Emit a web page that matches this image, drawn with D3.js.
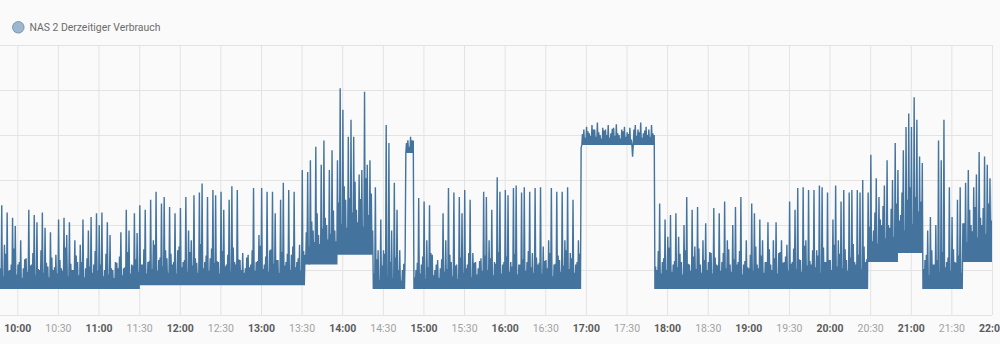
<!DOCTYPE html>
<html><head><meta charset="utf-8">
<script src="https://cdn.jsdelivr.net/npm/d3@7"></script>
<style>
html,body{margin:0;padding:0;background:#fafafa;overflow:hidden;}
svg{display:block;font-family:Roboto,"Noto Sans",sans-serif;}
</style>
</head><body>
<svg id="chart" width="1000" height="344"></svg>
<script>
// ---------- data ----------
const seriesName = "NAS 2 Derzeitiger Verbrauch";
const startTime = "09:47";      // first sample
const stepMinutes = 2;          // one idle / background / peak cycle every 2 minutes
// idle floor level (W) valid from each time on
const levelTimes = ["09:47","11:31","13:33","13:57","14:23","14:47","14:53","16:57","17:51","20:29","20:51","21:09","21:39"];
const floorWatts = [12.9, 13.3, 15.6, 16.7, 12.9, 28.0, 12.9, 28.9, 12.9, 15.9, 16.9, 12.9, 15.9];
// background readings (W), one every 2 minutes
const midWatts = [
  15.2,14.3,16.8,14.9,15.6,17.4,14.5,15.9,14.1,16.2,
  14.8,15.5,16.9,14.4,15.1,17.2,14.7,15.8,14.2,16.4,
  15.3,14.6,16.1,14.9,17.5,14.3,15.7,15.0,16.6,14.4,
  15.9,14.2,16.3,15.4,14.7,17.1,14.9,15.6,14.3,16.8,
  14.5,15.2,14.1,15.8,16.5,14.4,15.3,17.0,14.6,15.5,
  16.2,14.8,15.6,17.3,14.6,16.0,15.1,17.8,14.9,16.4,
  15.4,17.2,14.7,16.8,15.9,14.6,17.6,15.3,16.1,14.8,
  17.0,15.5,16.3,14.7,17.9,15.2,16.6,14.9,17.4,15.8,
  16.0,14.6,17.1,15.4,16.7,14.8,17.5,15.6,16.2,15.0,
  14.7,16.4,15.3,17.2,14.9,16.0,17.7,15.1,16.5,14.8,
  17.3,15.7,16.1,14.7,17.0,15.5,16.8,15.0,17.6,15.3,
  16.3,14.9,17.1,19.2,17.6,20.4,18.1,21.3,17.9,19.6,
  20.8,18.4,19.0,21.6,18.2,22.5,20.1,24.3,19.7,23.0,
  21.4,24.8,20.3,22.9,19.8,25.2,21.1,23.5,14.6,16.2,
  13.9,15.5,16.8,14.3,15.9,14.1,16.4,15.0,13.8,15.7,
  29.1,28.7,29.4,14.2,15.8,14.6,16.5,14.0,15.3,16.9,
  14.4,15.6,14.1,16.2,14.8,15.1,16.7,14.3,15.5,14.0,
  16.4,14.7,15.2,16.9,14.2,15.8,14.5,16.0,14.9,16.6,
  15.0,16.3,14.4,15.7,17.0,14.6,15.9,16.5,14.8,15.4,
  16.8,14.5,15.6,16.2,14.9,17.1,15.3,14.7,16.4,15.8,
  14.6,16.0,15.2,16.9,14.3,15.7,16.6,14.8,15.5,17.2,
  15.1,16.3,14.7,15.9,16.8,30.1,29.7,30.4,29.9,30.6,
  29.8,30.3,29.6,30.5,30.0,29.7,30.7,29.9,30.2,29.6,
  30.4,29.8,30.1,29.5,30.6,29.9,30.3,29.7,30.5,30.0,
  29.8,30.2,15.4,17.1,14.6,16.3,15.0,17.5,14.8,16.0,
  15.3,16.8,14.5,17.2,15.7,14.9,16.5,15.1,17.4,14.7,
  16.1,15.0,17.0,14.6,16.4,15.5,14.9,16.9,15.2,17.3,
  14.8,16.2,15.6,17.1,14.5,16.0,15.3,16.7,14.9,17.6,
  15.2,16.6,14.7,15.9,17.3,15.0,16.3,14.6,17.0,15.8,
  16.5,14.9,15.7,17.4,15.1,16.2,14.8,17.7,15.5,16.0,
  17.2,15.3,16.6,14.7,17.5,15.9,16.1,15.0,17.8,15.4,
  16.8,15.2,17.3,14.9,16.4,17.9,15.6,16.7,15.1,17.6,
  16.2,19.8,18.2,21.4,17.9,20.6,22.1,18.5,20.0,21.8,
  18.7,22.4,20.5,23.6,19.4,22.8,24.2,20.1,23.1,21.5,
  22.6,15.1,16.7,14.4,17.2,15.6,16.1,14.8,17.0,15.3,
  16.4,14.9,17.3,15.8,16.6,14.7,20.2,18.1,21.7,19.3,
  22.0,18.6,20.8,21.9,19.0,22.4,20.5
];
// peak readings (W), one every 2 minutes
const peakWatts = [
  22.2,17.8,21.4,15.0,20.8,19.9,15.6,18.3,15.2,16.3,
  21.7,15.6,21.1,20.3,15.0,21.4,19.7,15.4,19.2,15.0,
  16.7,20.6,15.2,20.8,18.9,20.3,15.0,18.3,15.9,17.8,
  20.6,15.2,19.4,20.9,15.6,21.3,20.0,21.4,15.0,20.3,
  18.9,15.0,15.9,15.2,19.2,15.2,21.7,19.4,15.6,21.3,
  19.1,22.2,15.6,21.7,15.9,22.8,18.3,23.7,16.1,22.4,
  23.1,16.3,22.0,15.6,21.3,17.2,21.9,15.9,23.1,19.4,
  18.3,23.3,15.8,23.6,24.6,15.9,23.1,16.3,23.9,23.3,
  15.9,23.7,21.7,15.6,22.8,24.3,15.9,23.9,16.1,16.9,
  15.2,16.7,15.6,24.1,15.9,18.9,24.1,15.6,23.7,17.2,
  23.7,21.3,16.1,22.8,24.7,15.9,23.9,16.7,23.7,15.9,
  17.8,26.1,16.7,25.9,27.2,19.4,28.7,18.9,26.7,29.4,
  20.0,26.1,28.3,19.4,27.2,35.2,32.8,22.8,29.8,31.7,
  29.8,21.7,25.6,26.1,34.8,26.7,27.2,19.4,24.2,17.2,
  20.6,17.2,31.1,29.1,19.4,24.7,21.7,17.2,15.0,16.7,
  29.4,29.8,29.4,15.0,23.0,15.6,22.6,18.3,22.2,16.7,
  15.0,16.1,15.2,21.3,18.3,24.1,15.9,23.6,15.6,23.1,
  21.3,23.9,15.6,22.8,16.9,15.9,15.2,16.3,23.7,23.1,
  18.3,21.7,15.9,25.3,23.7,15.6,23.9,23.3,15.9,24.1,
  24.4,15.6,23.6,24.2,15.9,23.7,16.9,24.1,15.6,24.2,
  17.6,16.1,18.3,24.1,15.6,23.7,16.1,23.7,18.3,24.2,
  16.9,22.8,15.6,18.3,28.6,30.6,30.9,30.2,31.1,30.6,
  31.4,30.0,30.8,30.6,31.1,30.2,30.8,31.2,30.0,30.6,
  30.9,30.3,30.8,27.6,31.1,30.6,31.4,30.2,30.9,30.6,
  31.1,30.0,15.0,22.4,15.9,20.6,18.7,21.1,15.6,21.3,
  18.7,15.9,20.0,23.1,15.6,21.7,17.6,22.0,15.6,18.3,
  20.2,15.9,16.9,21.9,15.6,21.3,15.9,22.6,18.3,15.6,
  20.0,22.0,15.9,23.1,15.6,18.3,15.2,22.4,21.3,15.6,
  20.6,18.3,15.9,20.3,15.6,18.3,20.3,16.9,18.3,15.9,
  17.8,22.6,15.9,21.7,24.1,16.1,24.2,18.3,23.9,15.6,
  23.9,17.2,24.4,24.2,15.9,23.6,16.1,20.6,24.4,18.3,
  22.6,23.9,16.1,23.6,23.9,15.9,23.9,23.6,25.0,15.9,
  23.6,27.8,19.4,25.2,23.1,20.0,24.4,27.2,19.7,25.0,
  29.1,26.1,21.1,28.3,30.9,32.4,30.9,34.2,31.7,27.6,
  26.9,16.1,19.4,20.9,15.6,20.0,29.4,27.2,31.7,15.9,
  24.2,20.9,15.9,22.8,24.2,20.2,24.7,26.1,20.0,24.2,
  25.6,28.1,20.0,27.6,26.7,25.2,24.7
];
const tickTimes = ["10:00","10:30","11:00","11:30","12:00","12:30","13:00","13:30","14:00","14:30","15:00","15:30",
  "16:00","16:30","17:00","17:30","18:00","18:30","19:00","19:30","20:00","20:30","21:00","21:30","22:00"];
const yTicks = [10,15,20,25,30,35,40];
const domainStart = "09:47:13", domainEnd = "22:00:00";

// ---------- chart ----------
const W = 1000, H = 344;
const plot = {left:0, right:992, top:45, bottom:315};
const color = "#44739e";
const parseHM = d3.timeParse("%H:%M");
const parseHMS = d3.timeParse("%H:%M:%S");

const x = d3.scaleTime().domain([parseHMS(domainStart), parseHMS(domainEnd)]).range([plot.left, plot.right]);
const y = d3.scaleLinear().domain([yTicks[0], yTicks[yTicks.length-1]]).range([plot.bottom, plot.top]);

const svg = d3.select("#chart");
svg.append("rect").attr("width",W).attr("height",H).attr("fill","#fafafa");

// grid
const gridY = svg.append("g").attr("transform",`translate(${plot.left},0)`)
  .call(d3.axisLeft(y).tickValues(yTicks).tickSize(-(plot.right-plot.left)).tickFormat(""));
gridY.select(".domain").remove();
gridY.selectAll("line").attr("stroke","#e3e3e3").attr("stroke-width",1);

const tickDates = tickTimes.map(parseHM);
const gridX = svg.append("g").attr("transform",`translate(0,${plot.bottom})`)
  .call(d3.axisBottom(x).tickValues(tickDates).tickSize(-(plot.bottom-plot.top)).tickFormat(""));
gridX.select(".domain").remove();
gridX.selectAll("line").attr("stroke","#e3e3e3").attr("stroke-width",1);

// labels
const axisX = svg.append("g").attr("transform",`translate(0,${plot.bottom})`)
  .call(d3.axisBottom(x).tickValues(tickDates).tickSize(0).tickPadding(10).tickFormat(d3.timeFormat("%H:%M")));
axisX.select(".domain").remove();
axisX.selectAll("text")
  .attr("font-family","Roboto, sans-serif")
  .attr("font-size","10.5px")
  .attr("font-weight", d => d.getMinutes()===0 ? "bold" : "normal")
  .attr("fill", d => d.getMinutes()===0 ? "#5c5c5c" : "#a2a2a2");

// data points
const t0 = parseHM(startTime);
const levelDates = levelTimes.map(parseHM);
function floorAt(t){
  let v = floorWatts[0];
  levelDates.forEach((d,i)=>{ if (t >= d) v = floorWatts[i]; });
  return v;
}
const points = [];
peakWatts.forEach((p,i)=>{
  const base = i*stepMinutes*60;
  const ta = d3.timeSecond.offset(t0, base);
  const tb = d3.timeSecond.offset(t0, base+30);
  const tc = d3.timeSecond.offset(t0, base+60);
  const td = d3.timeSecond.offset(t0, base+90);
  points.push([ta, floorAt(ta)]);
  points.push([tb, midWatts[i]]);
  points.push([tc, floorAt(tc)]);
  points.push([td, p]);
});

svg.append("clipPath").attr("id","clip").append("rect")
  .attr("x",plot.left).attr("y",plot.top-5).attr("width",plot.right-plot.left).attr("height",plot.bottom-plot.top+5);

const line = d3.line().x(d=>x(d[0])).y(d=>y(d[1]));
svg.append("path").datum(points)
  .attr("clip-path","url(#clip)")
  .attr("d",line)
  .attr("fill","none")
  .attr("stroke",color)
  .attr("stroke-width",1.4)
  .attr("stroke-linejoin","bevel");

// legend
const lg = svg.append("g");
lg.append("circle").attr("cx",18.3).attr("cy",27.3).attr("r",5.8)
  .attr("fill",color).attr("fill-opacity",0.5).attr("stroke",color).attr("stroke-opacity",0.6).attr("stroke-width",1);
lg.append("text").attr("x",29.5).attr("y",31)
  .attr("font-family","Roboto, sans-serif").attr("font-size","10.4px").attr("fill","#6b6b6b")
  .text(seriesName);
</script>
</body></html>
